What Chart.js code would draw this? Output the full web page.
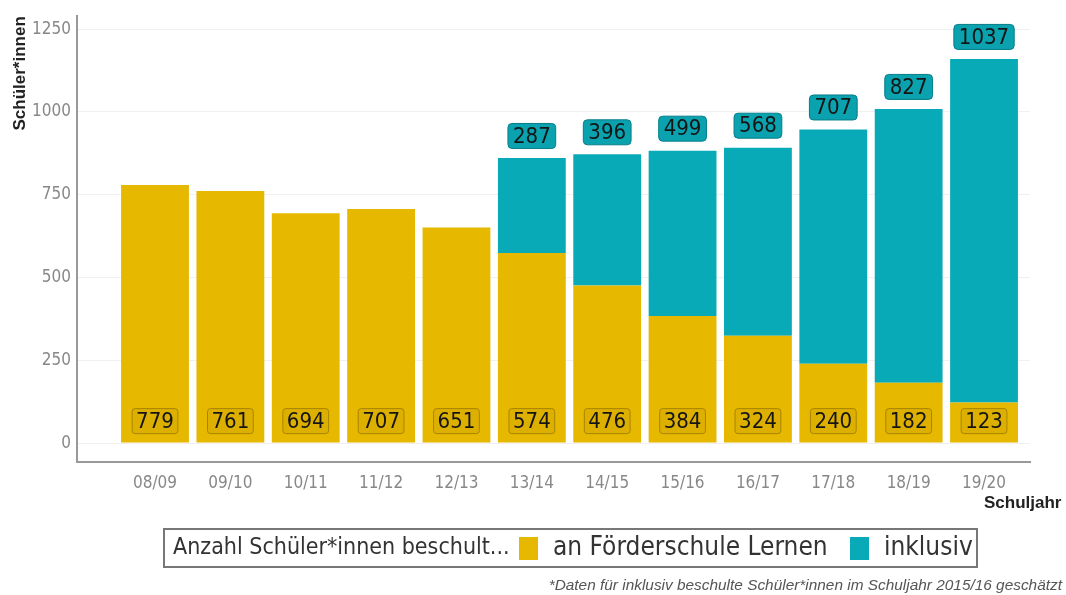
<!DOCTYPE html>
<html><head><meta charset="utf-8">
<script src="https://cdn.jsdelivr.net/npm/chart.js@4"></script>
<style>
html,body{margin:0;padding:0;background:#fff;width:1066px;height:595px;overflow:hidden;}
#wrap{position:relative;width:1066px;height:595px;}
canvas{position:absolute;left:0;top:0;}
.t{position:absolute;white-space:nowrap;}
#xt{left:984px;top:493px;font:bold 17px "Liberation Sans",Arial,sans-serif;color:#222;}
#leg{position:absolute;left:163px;top:528px;width:811px;height:36px;border:2px solid #777;box-sizing:content-box;}
.lt{font:23px "DejaVu Sans Condensed",sans-serif;color:#333;top:3px;}
.lt2{font:26px "DejaVu Sans Condensed",sans-serif;color:#333;top:1px;}
.sw{position:absolute;top:7px;width:19px;height:23px;}
#fn{right:4px;top:576px;font:italic 15.4px "Liberation Sans",Arial,sans-serif;color:#555;}
</style></head>
<body><div id="wrap">
<canvas id="c" width="1066" height="595"></canvas>
<div class="t" id="xt">Schuljahr</div>
<div id="leg">
 <span class="t lt" style="left:8px">Anzahl Schüler*innen beschult...</span>
 <span class="sw" style="left:354px;background:#E6B800"></span>
 <span class="t lt2" style="left:388px">an Förderschule Lernen</span>
 <span class="sw" style="left:685px;background:#09AAB8"></span>
 <span class="t lt2" style="left:719px">inklusiv</span>
</div>
<div class="t" id="fn">*Daten für inklusiv beschulte Schüler*innen im Schuljahr 2015/16 geschätzt</div>
</div>
<script>
const categories = ["08/09","09/10","10/11","11/12","12/13","13/14","14/15","15/16","16/17","17/18","18/19","19/20"];
const foerderschule = [779,761,694,707,651,574,476,384,324,240,182,123];
const inklusiv = [null,null,null,null,null,287,396,499,568,707,827,1037];
const yTickValues = [0,250,500,750,1000,1250];

const YELLOW = "#E6B800", TEAL = "#09AAB8";
const LABEL_FONT = '500 22px "DejaVu Sans Condensed", sans-serif';

function roundRect(ctx,x,y,w,h,r){
  ctx.beginPath();
  ctx.moveTo(x+r,y);ctx.lineTo(x+w-r,y);ctx.quadraticCurveTo(x+w,y,x+w,y+r);
  ctx.lineTo(x+w,y+h-r);ctx.quadraticCurveTo(x+w,y+h,x+w-r,y+h);
  ctx.lineTo(x+r,y+h);ctx.quadraticCurveTo(x,y+h,x,y+h-r);
  ctx.lineTo(x,y+r);ctx.quadraticCurveTo(x,y,x+r,y);ctx.closePath();
}
const labelPlugin = {
  id:'labels',
  afterDatasetsDraw(chart){
    const ctx = chart.ctx, xs = chart.scales.x, ys = chart.scales.y;
    ctx.save();
    ctx.font = LABEL_FONT; ctx.textAlign='center'; ctx.textBaseline='middle';
    const base = ys.getPixelForValue(0);
    categories.forEach((c,i)=>{
      const x = xs.getPixelForValue(i);
      const t1 = String(foerderschule[i]);
      const w1 = ctx.measureText(t1).width + 8, h = 25;
      const cy1 = base - 22;
      roundRect(ctx, x-w1/2, cy1-h/2, w1, h, 3);
      ctx.fillStyle = "#DDB000"; ctx.fill();
      ctx.lineWidth = 1; ctx.strokeStyle = "#A88400"; ctx.stroke();
      ctx.fillStyle = "#151515"; ctx.fillText(t1, x, cy1+1);
      if (inklusiv[i] != null) {
        const t2 = String(inklusiv[i]);
        const top = ys.getPixelForValue(foerderschule[i] + inklusiv[i]);
        const w2 = ctx.measureText(t2).width + 10;
        const cy2 = top - 22;
        roundRect(ctx, x-w2/2, cy2-h/2, w2, h, 4);
        ctx.fillStyle = "#0BA2AF"; ctx.fill();
        ctx.strokeStyle = "#067E89"; ctx.stroke();
        ctx.fillStyle = "#151515"; ctx.fillText(t2, x, cy2+1);
      }
    });
    ctx.restore();
  }
};

new Chart(document.getElementById('c'), {
  type:'bar',
  data:{
    datasets:[
      {label:'an Förderschule Lernen', data: foerderschule.map((v,i)=>({x:i,y:v})), backgroundColor: YELLOW, categoryPercentage:0.9, barPercentage:1.0},
      {label:'inklusiv', data: inklusiv.map((v,i)=>({x:i,y:v})), backgroundColor: TEAL, categoryPercentage:0.9, barPercentage:1.0}
    ]
  },
  options:{
    responsive:false, animation:false,
    layout:{padding:{left:0,top:14,right:36,bottom:93}},
    plugins:{legend:{display:false}, tooltip:{enabled:false}},
    scales:{
      x:{
        type:'linear', stacked:true, offset:false, min:-1.035, max:11.61,
        afterBuildTicks(s){ s.ticks = categories.map((c,i)=>({value:i})); },
        afterFit(s){ s.height = 40; },
        ticks:{ callback:(v)=>categories[v], color:'#888', padding:11, maxRotation:0, autoSkip:false,
          font:{family:'"DejaVu Sans Condensed",sans-serif', size:17} },
        grid:{display:false, drawTicks:false},
        border:{display:true, color:'#999', width:2}
      },
      y:{
        stacked:true, min:-57, max:1289,
        afterBuildTicks(s){ s.ticks = yTickValues.map(v=>({value:v})); },
        afterFit(s){ s.width = 77; },
        ticks:{ color:'#888', padding:6, callback:(v)=>String(v),
          font:{family:'"DejaVu Sans Condensed",sans-serif', size:17} },
        grid:{color:'#f0f0f0', lineWidth:1, drawTicks:false},
        border:{display:true, color:'#999', width:2},
        title:{display:true, text:'Schüler*innen', align:'end', color:'#222',
          font:{family:'"Liberation Sans","Arial",sans-serif', size:17, weight:'bold'}, padding:{top:10,bottom:0}}
      }
    }
  },
  plugins:[labelPlugin]
});
</script>
</body></html>
